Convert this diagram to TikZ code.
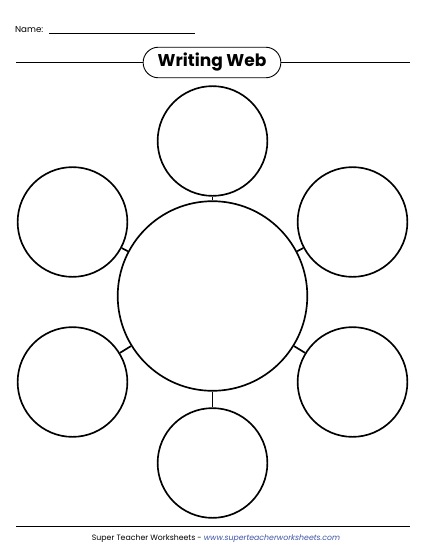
\documentclass[tikz,border=0pt]{standalone}
\usepackage{fontspec}
\setmainfont{Poppins}
\usetikzlibrary{shapes.misc}
\definecolor{urlblue}{RGB}{60,82,165}
\begin{document}
\begin{tikzpicture}[x=1.44pt,y=-1.44pt,
  bubble/.style={draw,circle,line width=2.4pt,inner sep=0pt,minimum size=158pt},
  hub/.style={draw,circle,line width=2.4pt,inner sep=0pt,minimum size=273pt},
  rule/.style={line width=0.9pt}]
\useasboundingbox (0,0) rectangle (425,550);
\node[anchor=base west,inner sep=0pt,font=\fontsize{12.5}{12.5}\selectfont] (name) at (15,33) {Name:};
\coordinate (namestart) at (49,33);
\coordinate (nameend) at (195,33);
\draw[rule] (namestart) -- (nameend);
\node[draw,rounded rectangle,line width=1.3pt,minimum width=205pt,minimum height=44pt,font=\fontsize{24.5}{24.5}\selectfont\bfseries] (title) at (212,62.5) {Writing Web};
\coordinate (ruleL) at (16,62.5);
\coordinate (ruleR) at (410,62.5);
\draw[rule] (ruleL) -- (title.west);
\draw[rule] (title.east) -- (ruleR);
\node[hub] (hub) at (212.5,296) {};
\node[bubble] (top) at (212.5,141) {};
\node[bubble] (upleft) at (72.5,222) {};
\node[bubble] (upright) at (352.5,222) {};
\node[bubble] (lowleft) at (72.5,382) {};
\node[bubble] (lowright) at (352.5,382) {};
\node[bubble] (bottom) at (212.5,463) {};
\foreach \b in {top,upleft,upright,lowleft,lowright,bottom}
  \draw[line width=2.4pt] (hub) -- (\b);
\coordinate (footL) at (16,526);
\coordinate (footR) at (410,526);
\draw[rule] (footL) -- (footR);
\node[anchor=base,inner sep=0pt,font=\fontsize{11.2}{11.2}\selectfont] (credit) at (216,540) {Super Teacher Worksheets - \textcolor{urlblue}{\itshape www.superteacherworksheets.com}};
\end{tikzpicture}
\end{document}
